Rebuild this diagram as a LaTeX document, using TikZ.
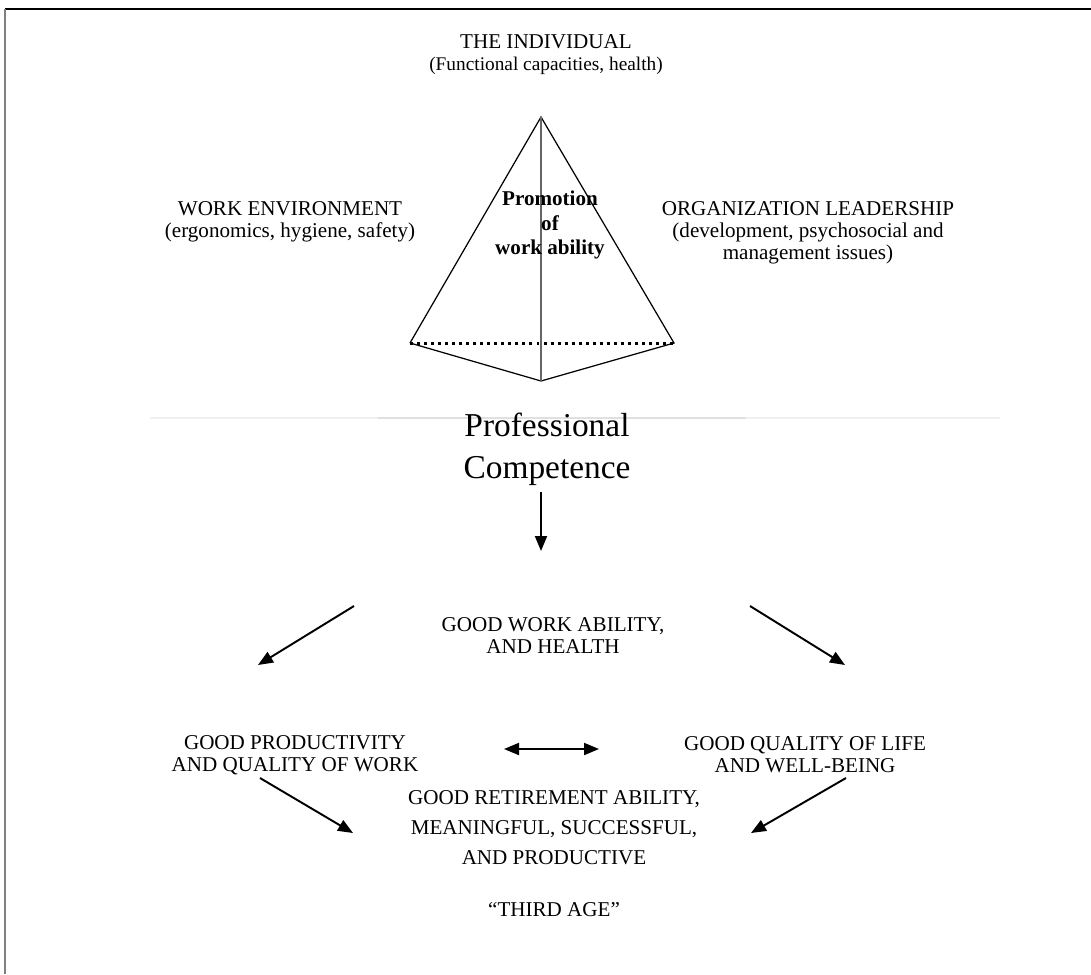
\documentclass[tikz,border=0pt]{standalone}
\usepackage{fontspec}
\setmainfont{Liberation Serif}
\usetikzlibrary{arrows.meta}

\tikzset{
  lbl/.style={align=center, inner sep=0pt, font=\fontsize{12}{12.5}\selectfont},
  tip/.tip={Triangle[length=0.3cm,width=0.24cm]},
  arr/.style={-tip, line width=1.1pt},
}

\begin{document}
\begin{tikzpicture}[x=0.02cm,y=-0.02cm]
\useasboundingbox (0,0) rectangle (1091,974);
\draw[line width=1.2pt] (5,9) -- (1091,9);
\draw[gray, line width=1.2pt] (5,9) -- (5,974);

\draw[black!6, line width=0.6pt] (150,418) -- (1000,418);
\draw[black!12, line width=0.6pt] (378,418) -- (746,418);

\coordinate (top) at (541,117);
\coordinate (bl) at (410,343);
\coordinate (br) at (674,343);
\coordinate (bot) at (541,381);
\draw[line width=0.7pt] (bl) -- (top) -- (br) -- (bot) -- (bl);
\draw[black!60, line width=0.9pt] (top) -- (bot);
\draw[line width=1.7pt, dash pattern=on 1.7pt off 2.3pt] (bl) -- (br);

\node[lbl] (indiv) at (546,55) {THE INDIVIDUAL\\{\fontsize{11}{12.5}\selectfont(Functional capacities, health)}};
\node[lbl] (env) at (290,222) {WORK ENVIRONMENT\\(ergonomics, hygiene, safety)};
\node[lbl] (org) at (808,233) {ORGANIZATION LEADERSHIP\\(development, psychosocial and\\management issues)};
\node[lbl, font=\bfseries\fontsize{12}{14}\selectfont] (promo) at (550,225) {Promotion\\of\\work ability};
\node[lbl, font=\fontsize{19}{24}\selectfont] (prof) at (547,449) {Professional\\Competence};
\node[lbl] (wa) at (553,636) {GOOD WORK ABILITY,\\AND HEALTH};
\node[lbl] (prod) at (295,755) {GOOD PRODUCTIVITY\\AND QUALITY OF WORK};
\node[lbl] (qol) at (805,755) {GOOD QUALITY OF LIFE\\AND WELL-BEING};
\node[lbl, font=\fontsize{12}{17}\selectfont] (ret) at (554,828) {GOOD RETIREMENT ABILITY,\\MEANINGFUL, SUCCESSFUL,\\AND PRODUCTIVE};
\node[lbl] (third) at (554,910) {``THIRD AGE''};

\coordinate (d0) at (541,492);
\coordinate (d1) at (541,551);
\coordinate (l0) at (354,606);
\coordinate (l1) at (258,665);
\coordinate (r0) at (750,606);
\coordinate (r1) at (845,665);
\coordinate (m0) at (504,749);
\coordinate (m1) at (599,749);
\coordinate (p0) at (260,778);
\coordinate (p1) at (353,833);
\coordinate (q0) at (846,778);
\coordinate (q1) at (751,833);
\draw[arr] (d0) -- (d1);
\draw[arr] (l0) -- (l1);
\draw[arr] (r0) -- (r1);
\draw[arr, tip-tip] (m0) -- (m1);
\draw[arr] (p0) -- (p1);
\draw[arr] (q0) -- (q1);
\end{tikzpicture}
\end{document}
